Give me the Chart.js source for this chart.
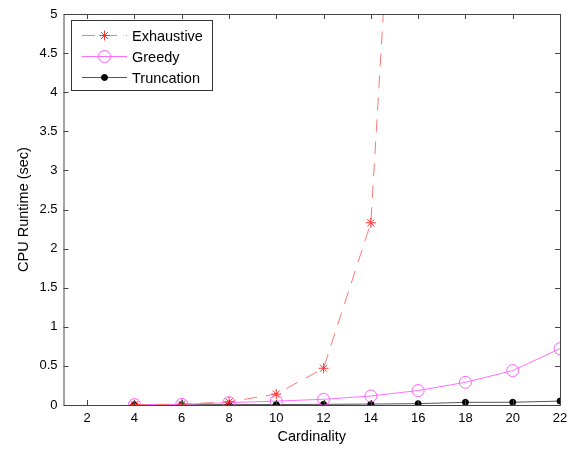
<!DOCTYPE html>
<html><head><meta charset="utf-8">
<script src="https://cdn.jsdelivr.net/npm/chart.js@4/dist/chart.umd.min.js"></script>
<style>html,body{margin:0;padding:0;background:#fff}#wrap{width:581px;height:450px}</style>
</head><body><div id="wrap"><canvas id="c" width="581" height="450"></canvas></div>
<script>
const cardinality = [4, 6, 8, 10, 12, 14, 16, 18, 20, 22];
const exhaustive = [0.005, 0.01, 0.04, 0.14, 0.47, 2.33, 12.5, null, null, null];
const greedy = [0.005, 0.008, 0.03, 0.05, 0.073, 0.115, 0.185, 0.29, 0.44, 0.72];
const truncation = [0.004, 0.004, 0.005, 0.006, 0.008, 0.012, 0.017, 0.034, 0.035, 0.05];
const xTicks = [2, 4, 6, 8, 10, 12, 14, 16, 18, 20, 22];
const yTicks = [0, 0.5, 1, 1.5, 2, 2.5, 3, 3.5, 4, 4.5, 5];
const seriesNames = ['Exhaustive', 'Greedy', 'Truncation'];

const FONT = 'Liberation Sans, Arial, sans-serif';
const pts = arr => cardinality.map((x, i) => ({x, y: arr[i]})).filter(p => p.y !== null);

const framePlugin = {
  id: 'frame',
  afterDraw(chart) {
    const {ctx, chartArea: a, scales} = chart;
    ctx.save();
    ctx.strokeStyle = '#444';
    ctx.lineWidth = 1;
    ctx.beginPath();
    ctx.rect(a.left + 0.5, a.top + 0.5, a.right - a.left, a.bottom - a.top);
    const L = 5;
    xTicks.forEach(v => {
      const px = Math.round(scales.x.getPixelForValue(v)) + 0.5;
      ctx.moveTo(px, a.bottom); ctx.lineTo(px, a.bottom - L);
      ctx.moveTo(px, a.top); ctx.lineTo(px, a.top + L);
    });
    yTicks.forEach(v => {
      const py = Math.round(scales.y.getPixelForValue(v)) + 0.5;
      ctx.moveTo(a.left, py); ctx.lineTo(a.left + L, py);
      ctx.moveTo(a.right, py); ctx.lineTo(a.right - L, py);
    });
    ctx.stroke();

    // legend box
    const bx = 71.5, by = 20.5, bw = 141, bh = 70;
    ctx.fillStyle = '#fff';
    ctx.fillRect(bx, by, bw, bh);
    ctx.strokeStyle = '#333';
    ctx.strokeRect(bx, by, bw, bh);
    ctx.font = '14.5px ' + FONT;
    ctx.textBaseline = 'middle';
    chart.data.datasets.forEach((ds, i) => {
      const y = by + 15 + i * 21;
      ctx.save();
      ctx.strokeStyle = ds.borderColor;
      ctx.lineWidth = ds.borderWidth;
      ctx.setLineDash(ds.borderDash || []);
      ctx.beginPath();
      ctx.moveTo(82, y); ctx.lineTo(127, y);
      ctx.stroke();
      ctx.restore();
      const m = {
        pointStyle: ds.pointStyle, radius: ds.pointRadius,
        borderWidth: ds.pointBorderWidth, rotation: 0
      };
      ctx.save();
      ctx.strokeStyle = ds.pointBorderColor;
      ctx.fillStyle = ds.pointBackgroundColor;
      ctx.lineWidth = ds.pointBorderWidth;
      Chart.helpers.drawPoint(ctx, m, 104.5, y);
      ctx.restore();
      ctx.fillStyle = '#000';
      ctx.textAlign = 'left';
      ctx.fillText(ds.label, 132, y + 1);
    });
    ctx.restore();
  }
};

new Chart(document.getElementById('c'), {
  type: 'line',
  data: {
    datasets: [
      {
        label: seriesNames[0], data: pts(exhaustive),
        borderColor: '#ff7878', borderWidth: 1, borderDash: [13, 9],
        pointStyle: 'star', pointRadius: 5, pointBorderColor: '#ff3030',
        pointBackgroundColor: '#ff3030', pointBorderWidth: 1, tension: 0
      },
      {
        label: seriesNames[1], data: pts(greedy),
        borderColor: '#ff70ff', borderWidth: 1,
        pointStyle: 'circle', pointRadius: 6, pointBorderColor: '#ff60ff',
        pointBackgroundColor: 'rgba(0,0,0,0)', pointBorderWidth: 1, tension: 0
      },
      {
        label: seriesNames[2], data: pts(truncation),
        borderColor: '#555', borderWidth: 1,
        pointStyle: 'circle', pointRadius: 3, pointBorderColor: '#000',
        pointBackgroundColor: '#000', pointBorderWidth: 1, tension: 0
      }
    ]
  },
  options: {
    responsive: false, animation: false,
    layout: {padding: {left: 0, top: 14, right: 21, bottom: 0}},
    plugins: {legend: {display: false}, tooltip: {enabled: false}},
    elements: {line: {fill: false}},
    scales: {
      x: {
        type: 'linear', min: 1, max: 22,
        afterBuildTicks: s => { s.ticks = xTicks.map(v => ({value: v})); },
        afterFit: s => { s.height = 45; },
        grid: {display: false, drawTicks: false},
        border: {display: false},
        ticks: {color: '#000', font: {family: FONT, size: 13}, padding: 6, maxRotation: 0},
        title: {display: true, text: 'Cardinality', color: '#000', font: {family: FONT, size: 14.5}, padding: {top: 1}}
      },
      y: {
        type: 'linear', min: 0, max: 5,
        afterBuildTicks: s => { s.ticks = yTicks.map(v => ({value: v})); },
        afterFit: s => { s.width = 63.5; },
        grid: {display: false, drawTicks: false},
        border: {display: false},
        ticks: {color: '#000', font: {family: FONT, size: 13}, padding: 6, callback: v => String(v)},
        title: {display: true, text: 'CPU Runtime (sec)', color: '#000', font: {family: FONT, size: 14.5}, padding: {top: 15, bottom: 0}}
      }
    }
  },
  plugins: [framePlugin]
});
</script></body></html>
